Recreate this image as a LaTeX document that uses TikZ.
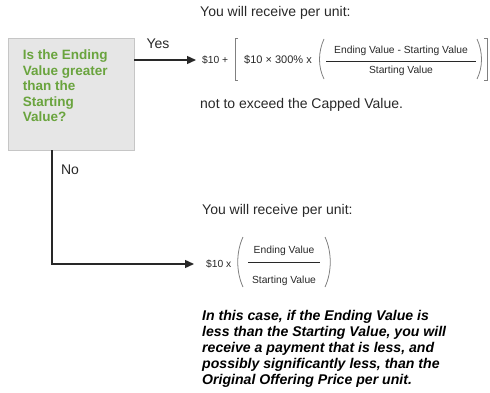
\documentclass[tikz,border=0pt]{standalone}
\usepackage{fontspec}
\setmainfont{Liberation Sans}
\usetikzlibrary{arrows.meta,positioning}
\definecolor{askgreen}{RGB}{106,164,62}
\definecolor{boxgray}{RGB}{230,230,230}
\definecolor{boxedge}{RGB}{198,198,198}
\definecolor{inkgray}{RGB}{40,40,40}
\tikzset{
    question-box/.style = {draw=boxedge, fill=boxgray, thick, rectangle, minimum width=126pt, minimum height=112pt, inner sep=0pt},
    question-text/.style = {text=askgreen, font=\fontsize{13.5}{15.5}\selectfont\bfseries, align=left, inner sep=0pt},
    plain-text/.style = {text=inkgray, font=\fontsize{14}{15}\selectfont, inner sep=0pt},
    formula-text/.style = {text=inkgray, font=\fontsize{10.3}{12}\selectfont, inner sep=0pt},
    note-text/.style = {text=black, font=\fontsize{14.1}{16}\selectfont\bfseries\itshape, align=left, inner sep=0pt},
    flow-arrow/.style = {draw=inkgray, line width=1.4pt, -{Triangle[length=9pt,width=8pt]}},
    delim/.style = {draw=gray, line width=0.8pt},
}

\begin{document}
\begin{tikzpicture}[x=1pt, y=1pt]
\useasboundingbox (0,0) rectangle (490,392);
% question box
\node [question-box] (question) at (71,298) {};
\node [question-text, anchor=north west] (question-label) at ([xshift=15pt, yshift=-12pt]question.north west) {Is the Ending\\Value greater\\than the\\Starting\\Value?};

% yes branch
\node [plain-text, anchor=west] (yes-head) at (200,379) {You will receive per unit:};
\node [formula-text, anchor=west] (yes-value) at (202,332) {\$10 +};
\node [formula-text, font=\fontsize{11}{12}\selectfont, anchor=west] (yes-factor) at (244,332) {\$10 × 300\% x};
\node [formula-text] (yes-top) at (401,341) {Ending Value - Starting Value};
\node [formula-text] (yes-bottom) at (401,321) {Starting Value};
\draw [draw=inkgray, thin] (326,331) -- (476,331);
\draw [delim] (238,354) -- (235,354) -- (235,312) -- (238,312);
\draw [delim] (324,353) .. controls (318,340) and (318,325) .. (324,313);
\draw [delim] (477,353) .. controls (483,340) and (483,325) .. (477,313);
\draw [delim] (484,354) -- (487,354) -- (487,312) -- (484,312);
\node [plain-text, anchor=west] (yes-cap) at (200,287) {not to exceed the Capped Value.};
\draw [flow-arrow, shorten >=6pt] (question.east |- yes-value.west) -- (yes-value.west);
\node [plain-text] (yes-label) at (158,348) {Yes};

% no branch
\node [plain-text, anchor=west] (no-head) at (202,181) {You will receive per unit:};
\node [formula-text, anchor=west] (no-value) at (206,128) {\$10 x};
\node [formula-text] (no-top) at (284,141) {Ending Value};
\node [formula-text] (no-bottom) at (284,111) {Starting Value};
\draw [draw=inkgray, thin] (248,130) -- (320,130);
\draw [delim] (243,155) .. controls (236,140) and (236,120) .. (243,105);
\draw [delim] (325,155) .. controls (332,140) and (332,120) .. (325,105);
\draw [flow-arrow, shorten >=12pt] ([xshift=-19pt]question.south) |- (no-value.west);
\node [plain-text] (no-label) at (70,222) {No};
\node [note-text, anchor=north west] (no-note) at (202,82) {In this case, if the Ending Value is\\less than the Starting Value, you will\\receive a payment that is less, and\\possibly significantly less, than the\\Original Offering Price per unit.};
\end{tikzpicture}
\end{document}
